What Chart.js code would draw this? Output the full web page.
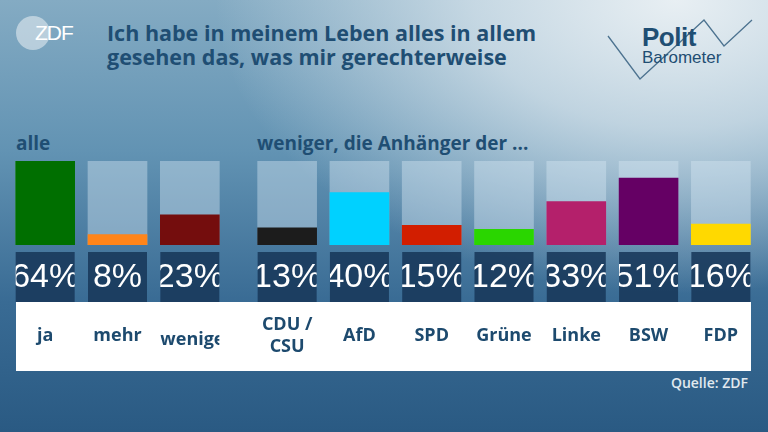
<!DOCTYPE html>
<html>
<head>
<meta charset="utf-8">
<script src="https://cdn.jsdelivr.net/npm/chart.js@4"></script>
<style>
  html, body { margin: 0; padding: 0; }
  body {
    width: 768px; height: 432px; overflow: hidden; position: relative;
    font-family: "Open Sans", sans-serif;
    background:
      radial-gradient(ellipse 75% 85% at 88% 0%, rgba(232,239,243,1) 0%, rgba(220,231,238,0.75) 35%, rgba(200,218,229,0) 80%),
      linear-gradient(180deg, #84abc3 0%, #6293b3 35%, #396b94 70%, #2a5a83 100%);
  }
  .abs { position: absolute; }
  #logo-circle { left: 16px; top: 16px; width: 34px; height: 34px; border-radius: 50%; background: rgba(235,240,244,0.55); }
  #logo-text { left: 35px; top: 21px; font: 300 21px "Liberation Sans", sans-serif; color: #fff; letter-spacing: -1px; }
  #title { left: 107px; top: 21px; font-weight: 700; font-size: 21.5px; line-height: 24px; color: #1f4e73; }
  .group { top: 130px; font-weight: 700; font-size: 19px; color: #1f4e73; }
  #strip { left: 16px; top: 302px; width: 735px; height: 69px; background: #fff; }
  #source { right: 20px; top: 373px; font-weight: 600; font-size: 14px; color: #e1e9ef; }
  #polit { left: 642px; top: 22px; font: 700 26px "Liberation Sans", sans-serif; color: #1f4e73; letter-spacing: -0.5px; }
  #baro { left: 642px; top: 48px; font: 400 17px "Liberation Sans", sans-serif; color: #1f4e73; }
  canvas { position: absolute; }
</style>
</head>
<body>
<div id="logo-circle" class="abs"></div>
<div id="logo-text" class="abs">ZDF</div>
<div id="title" class="abs">Ich habe in meinem Leben alles in allem<br>gesehen das, was mir gerechterweise</div>
<svg class="abs" style="left:0;top:0" width="768" height="90">
  <polyline points="608,36 640,79 704,20 724,46 752,20" fill="none" stroke="#4d7390" stroke-width="1.3"/>
</svg>
<div id="polit" class="abs">Polit</div>
<div id="baro" class="abs">Barometer</div>
<div class="abs group" style="left:16px">alle</div>
<div class="abs group" style="left:257px">weniger, die Anhänger der ...</div>
<div id="strip" class="abs"></div>
<canvas id="chartAll" width="217" height="216" style="left:9px;top:155px"></canvas>
<canvas id="chartParty" width="506" height="216" style="left:251px;top:155px"></canvas>
<div id="source" class="abs">Quelle: ZDF</div>

<script>
// Gesamt
const allLabels = ["ja", "mehr", "weniger"]
const allValues = [64, 8, 23]
const allColors = ["#006f00", "#ff851a", "#740d0d"]

// Anhänger der Parteien (Antwort "weniger")
const partyLabels = [["CDU /", "CSU"], "AfD", "SPD", "Grüne", "Linke", "BSW", "FDP"]
const partyValues = [13, 40, 15, 12, 33, 51, 16]
const partyColors = ["#1c1c1c", "#00d1ff", "#d21e00", "#2ad600", "#b4206b", "#650064", "#ffd900"]

const yMax = 64

const boxPlugin = {
    id: "boxes",
    afterDatasetsDraw(chart) {
        const ctx = chart.ctx
        const xScale = chart.scales.x
        const bottom = chart.chartArea.bottom
        const values = chart.data.datasets[1].data
        const half = 29.5

        chart.data.labels.forEach((label, i) => {
            const x = xScale.getPixelForValue(i)

            // percentage box
            ctx.save()
            ctx.fillStyle = "rgba(24,56,90,0.88)"
            ctx.fillRect(x - half, bottom + 7, half * 2, 50)
            ctx.beginPath()
            ctx.rect(x - half, bottom + 7, half * 2, 50)
            ctx.clip()
            ctx.fillStyle = "#ffffff"
            ctx.font = "34px 'Liberation Sans', sans-serif"
            ctx.textAlign = "center"
            ctx.textBaseline = "middle"
            ctx.fillText(values[i] + "%", x, bottom + 33)
            ctx.restore()

            // category label, too long ones start at the box edge
            ctx.save()
            ctx.beginPath()
            ctx.rect(x - half, bottom + 57, half * 2, 70)
            ctx.clip()
            ctx.fillStyle = "#1d4a6e"
            ctx.font = "700 18px 'Open Sans', sans-serif"
            ctx.textBaseline = "middle"
            const lines = Array.isArray(label) ? label : [label]
            const lh = 22
            lines.forEach((line, k) => {
                const y = bottom + 91 + (k - (lines.length - 1) / 2) * lh
                if (ctx.measureText(line).width > half * 2) {
                    ctx.textAlign = "left"
                    ctx.fillText(line, x - half, y + 4)
                } else {
                    ctx.textAlign = "center"
                    ctx.fillText(line, x, y)
                }
            })
            ctx.restore()
        })
    }
}

function makeChart(id, labels, values, colors) {
    return new Chart(document.getElementById(id), {
        type: "bar",
        data: {
            labels: labels,
            datasets: [
                {
                    data: values.map(() => yMax),
                    backgroundColor: "rgba(215,232,242,0.42)",
                    barThickness: 59,
                    grouped: false,
                    order: 2
                },
                {
                    data: values,
                    backgroundColor: colors,
                    barThickness: 59,
                    grouped: false,
                    order: 1
                }
            ]
        },
        options: {
            responsive: false,
            animation: false,
            layout: { padding: { top: 6, bottom: 126, left: 0, right: 0 } },
            plugins: { legend: { display: false }, tooltip: { enabled: false } },
            scales: {
                x: { display: false },
                y: { display: false, min: 0, max: yMax }
            }
        },
        plugins: [boxPlugin]
    })
}

makeChart("chartAll", allLabels, allValues, allColors)
makeChart("chartParty", partyLabels, partyValues, partyColors)
</script>
</body>
</html>
